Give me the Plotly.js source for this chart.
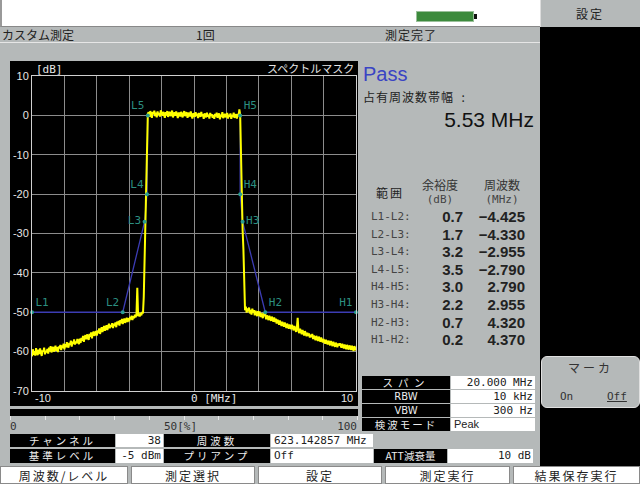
<!DOCTYPE html>
<html><head><meta charset="utf-8">
<script src="https://cdn.plot.ly/plotly-3.0.1.min.js"></script>
<style>
body{margin:0;width:640px;height:484px;overflow:hidden;background:#b5b9b9;font-family:"Noto Sans CJK JP",sans-serif;position:relative;}
.a{position:absolute;white-space:nowrap;box-sizing:border-box;}
.jp{font-family:"Noto Sans CJK JP",sans-serif;font-size:12px;color:#222;}
.mono{font-family:"DejaVu Sans Mono",monospace;font-size:11px;}
.cb{background:#000;color:#eee;text-align:center;font-family:"Noto Sans CJK JP",sans-serif;font-size:10.5px;letter-spacing:3px;}
.cbl{background:#000;color:#eee;text-align:center;font-family:"DejaVu Sans",sans-serif;font-size:10px;}
.cw{background:#fff;color:#222;font-family:"DejaVu Sans Mono",monospace;font-size:11px;}
.btn{background:#fff;border:1px solid #8a8a8a;text-align:center;font-size:12px;color:#222;font-family:"Noto Sans CJK JP",sans-serif;line-height:17px;top:466px;height:18px;}
</style></head><body>
<script>
// ---- data ----
const freqStart = -10, freqStep = 0.05;   // MHz, sample grid of the trace
const specLeft = [
-61.2,-59.4,-60.8,-59.9,-61.0,-59.1,-60.3,-60.9,-59.5,-60.6,-59.2,-60.4,-61.1,-59.7,-60.0,-59.0,-60.7,-59.8,-60.2,-59.3,
-60.5,-59.0,-59.9,-58.6,-60.2,-59.3,-58.8,-60.0,-59.4,-58.5,-59.8,-58.9,-60.1,-58.7,-59.2,-58.3,-59.6,-58.4,-59.1,-58.0,
-59.4,-58.1,-58.9,-57.6,-58.5,-59.0,-57.8,-58.3,-57.2,-58.7,-57.5,-58.0,-56.9,-58.2,-57.4,-57.9,-56.8,-57.6,-58.1,-56.7,
-57.8,-56.5,-57.2,-56.0,-57.5,-56.3,-55.8,-56.9,-55.6,-56.4,-57.0,-55.5,-56.2,-55.1,-56.6,-55.4,-54.9,-56.0,-55.2,-54.8,
-55.9,-54.6,-55.3,-54.1,-55.5,-54.4,-53.8,-55.0,-54.2,-53.5,-54.7,-53.9,-53.3,-54.5,-53.6,-52.9,-54.1,-53.2,-53.7,-52.8,
-54.0,-52.9,-53.5,-52.6,-53.8,-52.4,-53.1,-52.2,-53.4,-52.0,-52.8,-51.7,-53.0,-52.3,-51.6,-52.7,-51.9,-51.4,-52.5,-51.5,
-52.3,-51.2,-51.8,-50.9,-52.0,-51.0,-51.5,-50.6,-51.3,-50.4,-43.8,-51.0,-50.3,-51.1,-50.2,-50.8,-49.9,
-50.3,-46.0,-36.0,-27.5,-24.0,-8.0,0.4];
const specTop = [
0.8,-0.4,1.1,0.2,-0.6,0.9,0.3,1.2,-0.2,0.7,-0.5,1.0,0.1,0.6,-0.3,1.3,0.4,-0.1,0.9,0.2,
-0.6,0.8,0.0,1.1,-0.4,0.5,0.9,-0.2,0.6,1.2,-0.5,0.3,0.8,-0.1,1.0,0.2,-0.7,0.7,0.4,-0.3,
0.9,0.1,-0.5,0.6,1.1,-0.2,0.4,0.8,-0.6,0.2,0.7,-0.3,1.0,0.0,-0.8,0.5,0.3,-0.4,0.8,-0.1,
0.4,-0.7,0.6,0.1,-0.4,0.9,-0.2,0.3,-0.9,0.5,0.0,-0.5,0.7,-0.3,0.2,-0.8,0.6,-0.1,0.3,-0.6,
0.1,-0.9,0.4,-0.3,0.7,-0.6,0.0,0.5,-1.0,0.2,-0.4,0.8,-0.7,0.1,0.4,-0.5,-0.1,0.6,-0.8,0.2,
-0.3,0.5,-0.9,0.1,-0.4,0.7,-0.6,0.0,0.3,-0.8,0.4,-0.2,1.5,0.2];
const specRight = [
-11.0,-24.0,-29.0,-34.0,-44.0,-49.5,
-48.6,-50.1,-49.0,-49.8,-48.8,-50.3,-49.4,-50.6,-49.1,-50.0,-49.5,-50.8,-49.6,-50.2,-51.0,-49.7,
-50.9,-49.8,-51.2,-50.3,-50.7,-51.5,-50.1,-51.0,-50.5,-51.8,-50.8,-51.3,-52.0,-50.9,-51.6,-52.2,-51.1,-51.9,-52.4,-51.3,
-52.5,-51.6,-52.9,-51.9,-52.3,-53.2,-52.1,-52.8,-53.5,-52.4,-53.0,-53.7,-52.6,-53.3,-54.0,-52.9,-53.6,-54.2,-53.1,-53.8,
-54.3,-53.2,-54.0,-54.6,-53.5,-54.2,-55.0,-53.9,-51.4,-54.8,-55.3,-54.2,-55.0,-55.6,-54.5,-55.2,-55.9,-54.8,-55.5,-56.1,
-55.2,-56.0,-55.4,-56.4,-55.7,-56.3,-55.5,-56.8,-55.9,-56.5,-57.1,-56.0,-56.7,-57.3,-56.2,-56.9,-57.5,-56.4,-57.0,-57.7,
-56.8,-57.4,-58.0,-57.0,-57.6,-58.2,-57.2,-57.8,-58.4,-57.3,-58.0,-58.6,-57.5,-58.1,-58.8,-57.7,-58.3,-58.9,-57.9,-58.5,
-57.9,-58.6,-59.0,-58.0,-58.7,-59.2,-58.2,-58.9,-59.4,-58.3,-59.0,-59.5,-58.4,-59.1,-59.6,-58.5,-59.2,-59.8,-58.6,-59.3,-59.7];
const maskNames = ['L1','L2','L3','L4','L5','H5','H4','H3','H2','H1'];
const maskFreq  = [-10,-4.4,-3.05,-2.9,-2.85,2.85,2.85,3.0,4.4,10];
const maskLevel = [-50,-50,-27,-20,0,0,-20,-27,-50,-50];
const yTickVals = [10,0,-10,-20,-30,-40,-50,-60,-70];
const yTickText = ['10','0','-10','-20','-30','-40','-50','-60','-70'];
const rangeLabels = ['L1-L2:','L2-L3:','L3-L4:','L4-L5:','H4-H5:','H3-H4:','H2-H3:','H1-H2:'];
const marginDb = ['0.7','1.7','3.2','3.5','3.0','2.2','0.7','0.2'];
const worstFreq = ['−4.425','−4.330','−2.955','−2.790','2.790','2.955','4.320','4.370'];
const setNames = ['スパン','RBW','VBW','検波モード'];
const setValues = ['20.000 MHz','10 kHz','300 Hz','Peak'];
const buttons = ['周波数/レベル','測定選択','設定','測定実行','結果保存実行'];
</script>

<!-- top bars -->
<div class="a" style="left:0;top:0;width:540px;height:27px;background:#fff;border-left:2px solid #999;border-bottom:1px solid #888;"></div>
<div class="a" style="left:416px;top:11px;width:58px;height:11px;background:#3c8a3c;border:1px solid #9ac09a;"></div>
<div class="a" style="left:474px;top:14px;width:3px;height:5px;background:#111;"></div>
<div class="a" style="left:0;top:42px;width:540px;height:1px;background:#e6e6e6;"></div>
<div class="a jp" style="left:2px;top:27px;line-height:15px;">カスタム測定</div>
<div class="a jp" style="left:196px;top:27px;line-height:15px;">1回</div>
<div class="a jp" style="left:385px;top:27px;line-height:15px;letter-spacing:1px;">測定完了</div>

<!-- right column -->
<div class="a" style="left:540px;top:0;width:100px;height:27px;background:#b5b9b9;border-left:1px solid #ddd;"></div>
<div class="a jp" style="left:540px;top:0;width:100px;height:27px;line-height:27px;text-align:center;letter-spacing:2px;">設定</div>
<div class="a" style="left:540px;top:27px;width:100px;height:439px;background:#000;"></div>
<div class="a" style="left:541px;top:356px;width:99px;height:52px;background:#b5b9b9;border:1px solid #e0e0e0;border-radius:6px;"></div>
<div class="a jp" style="left:541px;top:360px;width:99px;text-align:center;letter-spacing:3px;line-height:16px;color:#333;">マーカ</div>
<div class="a mono" style="left:560px;top:389px;line-height:16px;color:#333;">On</div>
<div class="a mono" style="left:607px;top:389px;line-height:16px;color:#333;text-decoration:underline;">Off</div>

<!-- chart -->
<div class="a" style="left:10px;top:61px;width:348px;height:345px;background:#000;"></div>
<div id="plot" class="a" style="left:10px;top:61px;width:348px;height:345px;"></div>

<!-- progress bar -->
<div class="a" style="left:10px;top:409px;width:348px;height:7px;background:#000;"></div>
<div id="ticks"></div>
<div class="a mono" style="left:10px;top:420px;line-height:14px;color:#333;">0</div>
<div class="a mono" style="left:164px;top:420px;line-height:14px;color:#333;">50[%]</div>
<div class="a mono" style="left:335px;top:420px;width:22px;text-align:right;line-height:14px;color:#333;">100</div>

<!-- result panel -->
<div class="a" style="left:363px;top:62px;font-family:'Liberation Sans',sans-serif;font-size:20px;color:#3a44c4;line-height:24px;">Pass</div>
<div class="a jp" style="left:363px;top:89px;line-height:16px;letter-spacing:1px;">占有周波数帯幅 &nbsp;:</div>
<div class="a" style="left:400px;top:107px;width:134px;text-align:right;font-family:'Liberation Sans',sans-serif;font-size:21px;color:#111;line-height:26px;">5.53 MHz</div>
<div class="a jp" style="left:376px;top:185px;line-height:16px;letter-spacing:2px;">範囲</div>
<div class="a jp" style="left:410px;top:177px;width:60px;text-align:center;line-height:16px;color:#333;">余裕度</div>
<div class="a mono" style="left:410px;top:193px;width:60px;text-align:center;line-height:13px;color:#444;">(dB)</div>
<div class="a jp" style="left:472px;top:177px;width:60px;text-align:center;line-height:16px;color:#333;">周波数</div>
<div class="a mono" style="left:472px;top:193px;width:60px;text-align:center;line-height:13px;color:#444;">(MHz)</div>
<div id="rows"></div>

<!-- settings table -->
<div id="settings"></div>

<!-- bottom table -->
<div class="a cb" style="left:10px;top:434px;width:105px;height:13px;line-height:13px;">チャンネル</div>
<div class="a cw" style="left:116px;top:434px;width:47px;height:13px;line-height:13px;text-align:right;padding-right:2px;">38</div>
<div class="a cb" style="left:164px;top:434px;width:106px;height:13px;line-height:13px;">周波数</div>
<div class="a cw" style="left:271px;top:434px;width:102px;height:13px;line-height:13px;padding-left:3px;">623.142857 MHz</div>
<div class="a cb" style="left:10px;top:449px;width:105px;height:14px;line-height:14px;">基準レベル</div>
<div class="a cw" style="left:116px;top:449px;width:47px;height:14px;line-height:14px;text-align:right;padding-right:2px;">-5 dBm</div>
<div class="a cb" style="left:164px;top:449px;width:106px;height:14px;line-height:14px;">プリアンプ</div>
<div class="a cw" style="left:271px;top:449px;width:102px;height:14px;line-height:14px;padding-left:3px;">Off</div>
<div class="a cb" style="left:374px;top:449px;width:73px;height:14px;line-height:14px;letter-spacing:0;">ATT減衰量</div>
<div class="a cw" style="left:448px;top:449px;width:85px;height:14px;line-height:14px;text-align:right;padding-right:2px;">10 dB</div>

<div id="btns"></div>

<script>
// ticks under progress bar
let th = '';
for (let k = 0; k <= 10; k++) {
  th += '<div class="a" style="left:' + (10 + k * 34.7) + 'px;top:416px;width:1px;height:4px;background:#e8e8e8;"></div>';
}
document.getElementById('ticks').innerHTML = th;

// result rows
let rh = '';
rangeLabels.forEach((lab, i) => {
  const y = 209 + i * 17.6;
  rh += '<div class="a mono" style="left:371px;top:' + y + 'px;line-height:16px;color:#444;">' + lab + '</div>';
  rh += '<div class="a" style="left:420px;top:' + (y - 1) + 'px;width:43px;text-align:right;font-family:Liberation Sans,sans-serif;font-weight:bold;font-size:15px;line-height:18px;color:#222;">' + marginDb[i] + '</div>';
  rh += '<div class="a" style="left:465px;top:' + (y - 1) + 'px;width:60px;text-align:right;font-family:Liberation Sans,sans-serif;font-weight:bold;font-size:15px;line-height:18px;color:#222;">' + worstFreq[i] + '</div>';
});
document.getElementById('rows').innerHTML = rh;

// settings table
let sh = '';
const sTop = [376, 390, 404, 418];
setNames.forEach((n, i) => {
  const h = 13;
  const cls = (i === 1 || i === 2) ? 'cbl' : 'cb';
  const ls = i === 0 ? 5 : (i === 3 ? 2 : 0);
  sh += '<div class="a ' + cls + '" style="left:362px;top:' + sTop[i] + 'px;width:88px;height:' + h + 'px;line-height:' + h + 'px;letter-spacing:' + ls + 'px;">' + n + '</div>';
  const al = i === 3 ? 'left;padding-left:3px;font-family:Liberation Sans,sans-serif;font-size:11px' : 'right;padding-right:2px';
  sh += '<div class="a cw" style="left:451px;top:' + sTop[i] + 'px;width:84px;height:' + h + 'px;line-height:' + h + 'px;text-align:' + al + ';">' + setValues[i] + '</div>';
});
document.getElementById('settings').innerHTML = sh;

// buttons
const bx = [[0, 128], [131, 255], [258, 382], [385, 510], [513, 640]];
let bh = '';
buttons.forEach((b, i) => {
  bh += '<div class="a btn" style="left:' + bx[i][0] + 'px;width:' + (bx[i][1] - bx[i][0]) + 'px;letter-spacing:2px;">' + b + '</div>';
});
document.getElementById('btns').innerHTML = bh;

// chart
const spectrum = specLeft.concat(specTop, specRight);
const labelPos = ['top right','top left','middle left','top left','top left','top right','top right','middle right','top right','top left'];
const traces = [
  {type:'scatter', mode:'lines', x:maskFreq, y:maskLevel, line:{color:'#3c3cb4', width:1.3}, hoverinfo:'skip'},
  {type:'scatter', mode:'lines', x0:freqStart, dx:freqStep, y:spectrum, line:{color:'#ffff00', width:2}, hoverinfo:'skip'},
  {type:'scatter', mode:'markers+text', x:maskFreq, y:maskLevel, text:maskNames, textposition:labelPos,
   marker:{size:4, color:'#2a9d8f'}, textfont:{color:'#2c8f80', size:11, family:'DejaVu Sans Mono'}, cliponaxis:false, hoverinfo:'skip'}
];
const axisFont = {color:'#e6e6e6', size:11, family:'Liberation Sans'};
const layout = {
  width:348, height:345,
  margin:{l:22, r:2, t:15, b:15, pad:0},
  paper_bgcolor:'#000', plot_bgcolor:'#000',
  showlegend:false,
  xaxis:{range:[-10,10], tick0:-10, dtick:2, showgrid:true, gridcolor:'#8c8c8c', gridwidth:1,
         showticklabels:false, zeroline:false, showline:true, mirror:true, linecolor:'#d0d0d0', linewidth:1, ticks:''},
  yaxis:{range:[-70,10], tickmode:'array', tickvals:yTickVals, ticktext:yTickText, showgrid:true, gridcolor:'#8c8c8c', gridwidth:1,
         tickfont:axisFont, zeroline:false, showline:true, mirror:true, linecolor:'#d0d0d0', linewidth:1, ticks:'', ticklabelstandoff:0},
  annotations:[
    {xref:'paper', yref:'paper', x:0, y:1, xanchor:'left', yanchor:'bottom', xshift:2, yshift:-2, showarrow:false,
     text:'[dB]', font:{color:'#e6e6e6', size:11, family:'DejaVu Sans Mono'}},
    {xref:'paper', yref:'paper', x:1, y:1, xanchor:'right', yanchor:'bottom', yshift:-2, showarrow:false,
     text:'スペクトルマスク', font:{color:'#e6e6e6', size:11, family:'Noto Sans CJK JP'}},
    {xref:'paper', yref:'paper', x:0, y:0, xanchor:'left', yanchor:'top', xshift:1, yshift:1, showarrow:false,
     text:'-10', font:axisFont},
    {xref:'x', yref:'paper', x:0, y:0, xanchor:'left', yanchor:'top', xshift:-5, yshift:1, showarrow:false,
     text:'0 [MHz]', font:{color:'#e6e6e6', size:11, family:'DejaVu Sans Mono'}},
    {xref:'paper', yref:'paper', x:1, y:0, xanchor:'right', yanchor:'top', xshift:-1, yshift:1, showarrow:false,
     text:'10', font:axisFont}
  ]
};
Plotly.newPlot('plot', traces, layout, {displayModeBar:false, staticPlot:true});
</script>
</body></html>
